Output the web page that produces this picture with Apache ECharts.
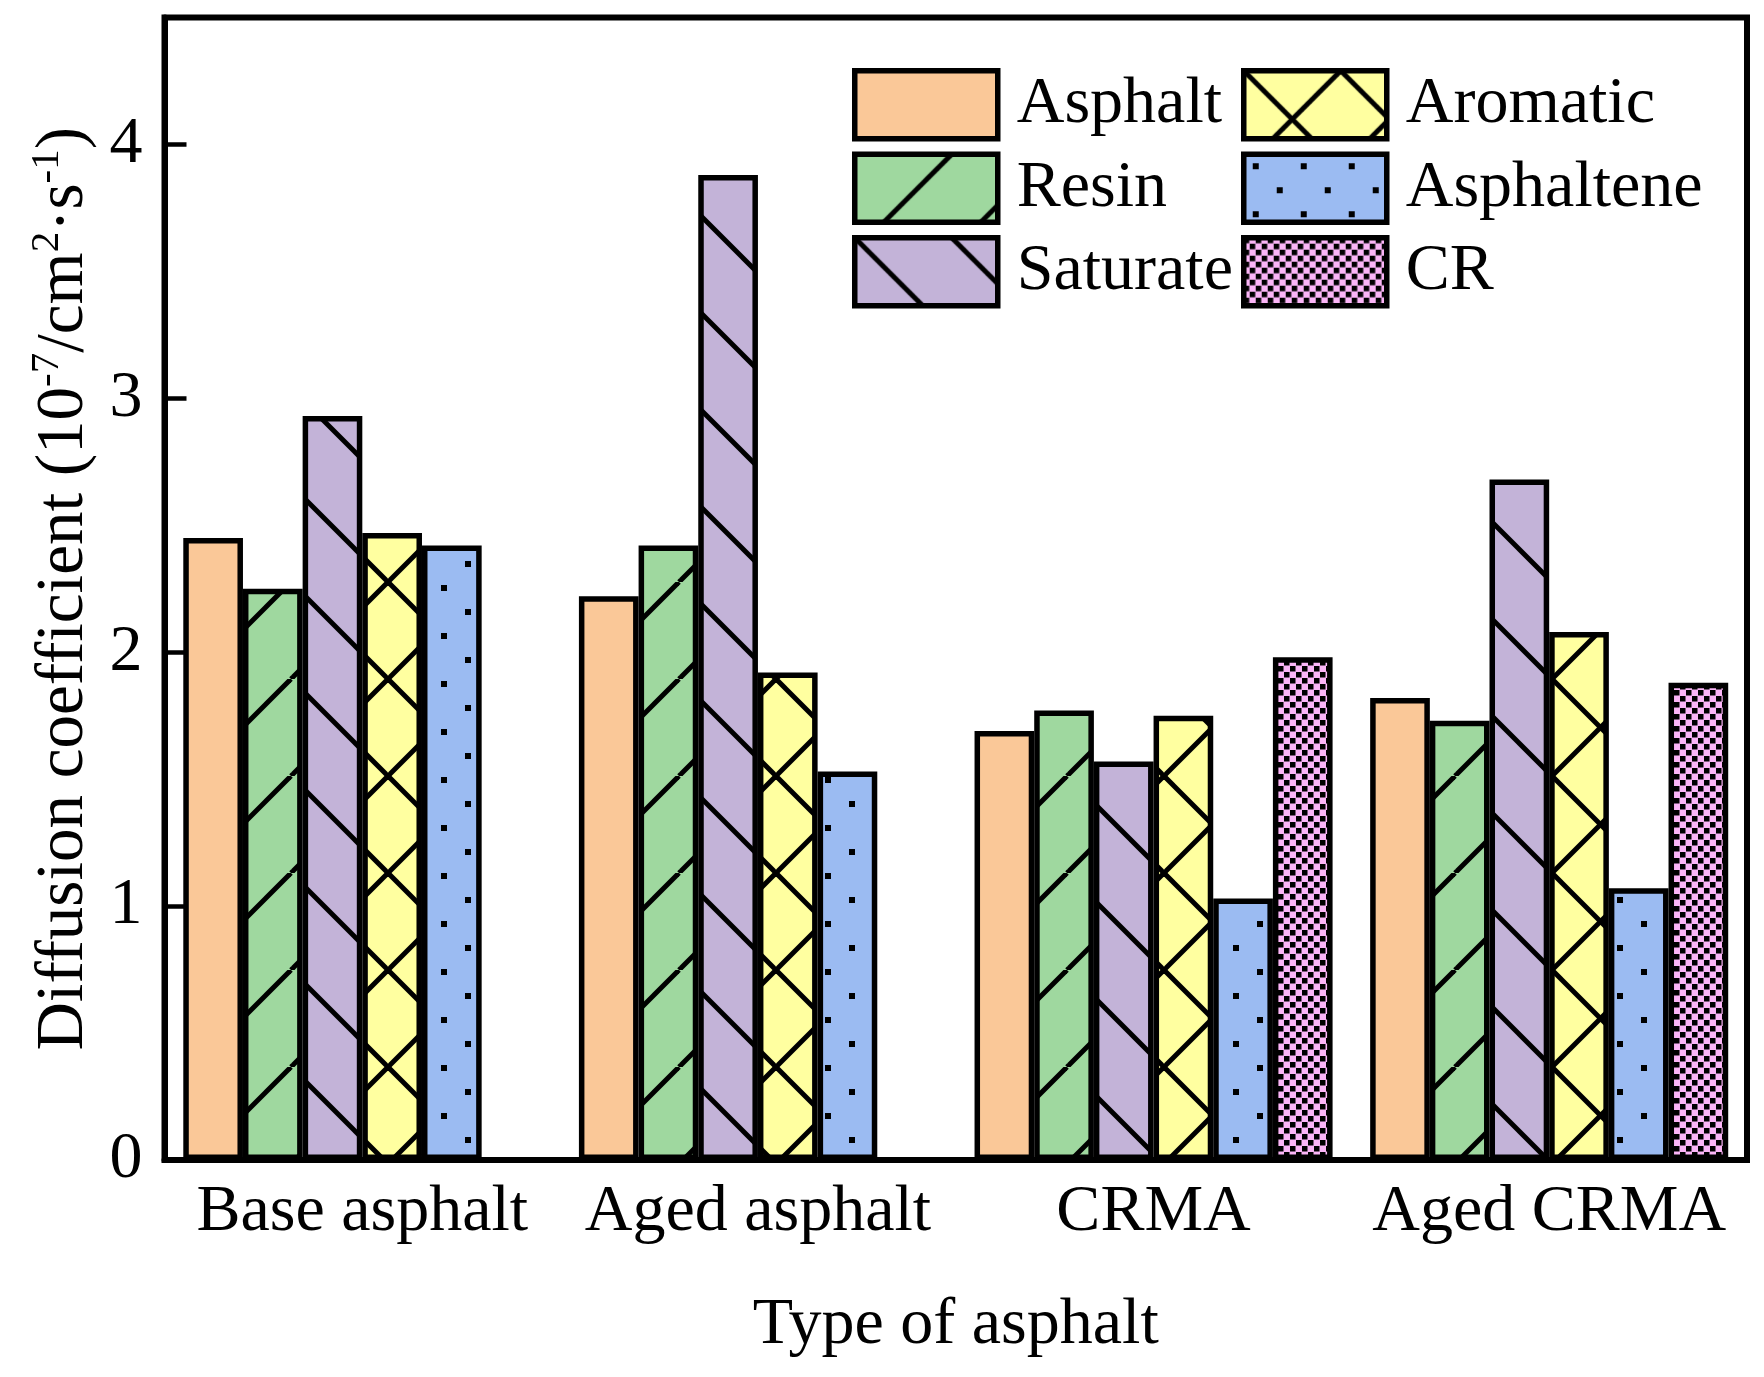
<!DOCTYPE html>
<html><head><meta charset="utf-8">
<script src="https://cdn.jsdelivr.net/npm/echarts@6/dist/echarts.min.js"></script>
<style>html,body{margin:0;padding:0;background:#fff}#c{width:1764px;height:1377px}</style>
</head><body><div id="c"></div>
<script>
// ---- data ----
const categories = ['Base asphalt', 'Aged asphalt', 'CRMA', 'Aged CRMA'];
const seriesNames = ['Asphalt', 'Resin', 'Saturate', 'Aromatic', 'Asphaltene', 'CR'];
const asphaltValues    = [2.45, 2.22, 1.69, 1.82];
const resinValues      = [2.25, 2.42, 1.77, 1.73];
const saturateValues   = [2.93, 3.88, 1.57, 2.68];
const aromaticValues   = [2.47, 1.92, 1.75, 2.08];
const asphalteneValues = [2.42, 1.53, 1.03, 1.07];
const crValues         = [null, null, 1.98, 1.88];
const yTickValues = [0, 1, 2, 3, 4];

const FONT = 'Liberation Serif';

function makePattern(bg, w, h, draw) {
  const c = document.createElement('canvas');
  c.width = w; c.height = h;
  const g = c.getContext('2d');
  g.fillStyle = bg; g.fillRect(0, 0, w, h);
  g.strokeStyle = '#000'; g.fillStyle = '#000'; g.lineWidth = 5;
  draw(g, w, h);
  return { image: c, repeat: 'repeat' };
}
const S = 97;
function fwd(g) { for (let k = -1; k <= 1; k++) { g.beginPath(); g.moveTo(k * S, S); g.lineTo(k * S + S, 0); g.stroke(); } }
function back(g) { for (let k = -1; k <= 1; k++) { g.beginPath(); g.moveTo(k * S, 0); g.lineTo(k * S + S, S); g.stroke(); } }

const fills = [
  '#FAC898',
  makePattern('#9FD89F', S, S, fwd),
  makePattern('#C3B3D8', S, S, back),
  makePattern('#FFFFA0', S, S, g => { fwd(g); back(g); }),
  makePattern('#9BBBF2', 48, 48, g => { g.fillRect(9, 9, 6, 6); g.fillRect(33, 33, 6, 6); }),
  makePattern('#FBB5F7', 12, 12, g => { g.fillRect(0, 0, 5.5, 5.5); g.fillRect(6, 6, 5.5, 5.5); })
];
const allValues = [asphaltValues, resinValues, saturateValues, aromaticValues, asphalteneValues, crValues];

const chart = echarts.init(document.getElementById('c'), null, { renderer: 'canvas' });
const legendCommon = {
  orient: 'vertical', icon: 'rect', itemWidth: 143, itemHeight: 68, itemGap: 10, padding: 0,
  itemStyle: { borderWidth: 5.5, borderColor: '#000' },
  textStyle: { fontFamily: FONT, fontSize: 66, color: '#000', lineHeight: 68, padding: [0, 0, 0, 14] },
  selectedMode: false
};
chart.setOption({
  backgroundColor: '#fff',
  animation: false,
  grid: { left: 164.5, right: 17, top: 17.5, bottom: 217, show: true, borderColor: '#000', borderWidth: 6, backgroundColor: 'transparent', containLabel: false },
  legend: [
    Object.assign({ left: 852, top: 68, data: seriesNames.slice(0, 3) }, legendCommon),
    Object.assign({ left: 1241, top: 68, data: seriesNames.slice(3) }, legendCommon)
  ],
  xAxis: {
    type: 'category', data: categories,
    axisLine: { show: true, lineStyle: { color: '#000', width: 6 } },
    axisTick: { show: false },
    axisLabel: { fontFamily: FONT, fontSize: 66, color: '#000', margin: 20, interval: 0, hideOverlap: false },
    name: 'Type of asphalt', nameLocation: 'middle', nameGap: 133,
    nameTextStyle: { fontFamily: FONT, fontSize: 66, color: '#000' }
  },
  yAxis: {
    type: 'value', min: 0, max: 4.5, interval: 1,
    axisLine: { show: true, lineStyle: { color: '#000', width: 6 } },
    axisTick: { show: true, inside: true, length: 22, lineStyle: { color: '#000', width: 4.5 } },
    splitLine: { show: false },
    axisLabel: { fontFamily: FONT, fontSize: 66, color: '#000', margin: 22,
      formatter: v => yTickValues.indexOf(v) >= 0 ? String(v) : '' },
    name: '{t|Diffusion coefficient (10}{s|-7}{t|/cm}{s|2}{t|·s}{s|-1}{t|)}',
    nameLocation: 'middle', nameGap: 62, nameRotate: 90,
    nameTextStyle: {
      rich: {
        t: { fontFamily: FONT, fontSize: 67, color: '#000', lineHeight: 76 },
        s: { fontFamily: FONT, fontSize: 41, color: '#000', verticalAlign: 'top', lineHeight: 44 }
      }
    }
  },
  series: seriesNames.map((name, i) => ({
    name, type: 'bar', data: allValues[i],
    barGap: '0%', barCategoryGap: '9.5%',
    itemStyle: { color: fills[i], borderColor: '#000', borderWidth: 5.5 }
  }))
});
</script></body></html>
